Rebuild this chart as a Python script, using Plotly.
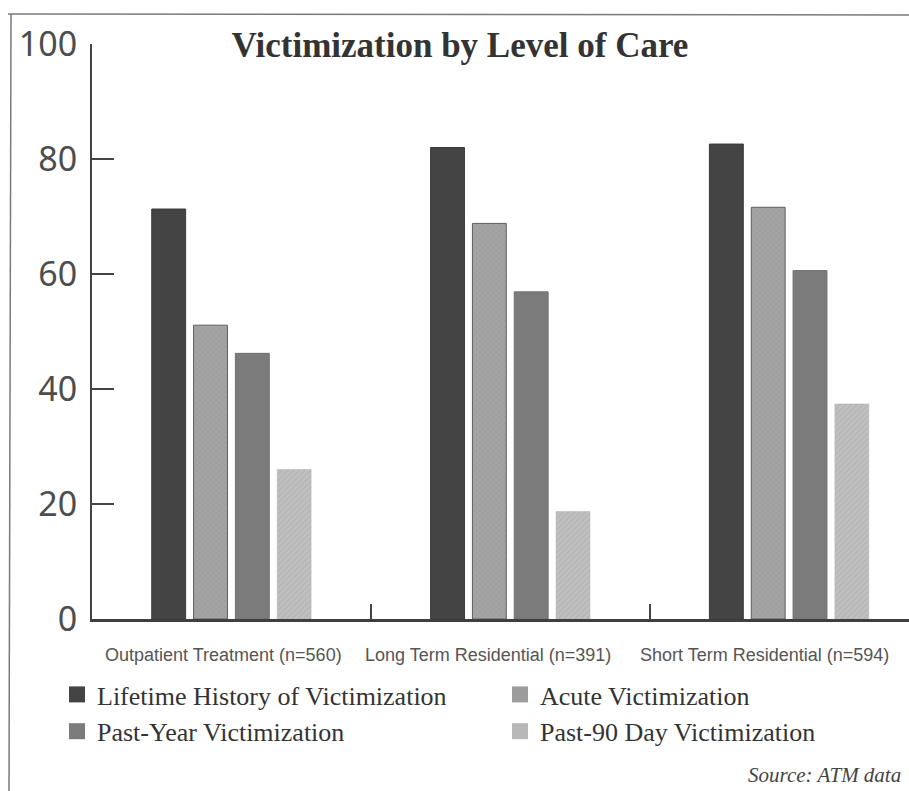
import plotly.graph_objects as go

# Level-of-care groups and victimization rates (%)
categories = ["Outpatient Treatment (n=560)",
              "Long Term Residential (n=391)",
              "Short Term Residential (n=594)"]
lifetime = [71.3, 82.0, 82.6]
acute = [51.1, 68.8, 71.6]
past_year = [46.2, 56.9, 60.6]
past_90 = [26.0, 18.7, 37.4]
y_ticks = [0, 20, 40, 60, 80, 100]
# category labels sit a little left of their bar groups
label_shift = [-8, -22, -25]

# name, values, swatch colour, bar marker, legend column
series = [
    ("Lifetime History of Victimization", lifetime, "#444444",
     dict(color="#444444", line=dict(color="#3a3a3a", width=1)), "legend"),
    ("Acute Victimization", acute, "#9c9c9c",
     dict(color="#9c9c9c", line=dict(color="#5e5e5e", width=1),
          pattern=dict(shape="x", fgcolor="#8c8c8c", bgcolor="#a4a4a4",
                       size=4, solidity=0.25)), "legend2"),
    ("Past-Year Victimization", past_year, "#7b7b7b",
     dict(color="#7b7b7b", line=dict(color="#707070", width=1)), "legend"),
    ("Past-90 Day Victimization", past_90, "#b8b8b8",
     dict(color="#b8b8b8", line=dict(color="#b0b0b0", width=0.5),
          pattern=dict(shape="/", fgcolor="#a6a6a6", bgcolor="#c0c0c0",
                       size=4, solidity=0.3)), "legend2"),
]

fig = go.Figure()
for name, vals, swatch, marker, leg in series:
    fig.add_trace(go.Bar(x=categories, y=vals, name=name, marker=marker,
                         legendgroup=name, showlegend=False))
# larger square swatches for the two legend columns
for name, vals, swatch, marker, leg in series:
    fig.add_trace(go.Scatter(x=[None], y=[None], mode="markers", name=name,
                             legendgroup=name, legend=leg,
                             marker=dict(symbol="square", size=17, color=swatch)))

# category labels under the axis
cat_labels = [dict(text=c, xref="x", yref="paper", x=c, y=-(655 - 619) / 575,
                   xanchor="center", yanchor="middle", xshift=s, showarrow=False,
                   font=dict(family="Liberation Sans", size=18, color="#555555"))
              for c, s in zip(categories, label_shift)]

legend_font = dict(family="Liberation Serif", size=26, color="#333333")
legend_y = -(671 - 619) / 575

fig.update_layout(
    width=909, height=791,
    margin=dict(l=92, r=0, t=44, b=172, autoexpand=False),
    paper_bgcolor="white", plot_bgcolor="white",
    barmode="group", bargap=0.4, bargroupgap=0.19,
    title=dict(text="<b>Victimization by Level of Care</b>",
               x=0.506, xref="container", xanchor="center",
               y=1 - 45 / 791, yref="container", yanchor="middle",
               font=dict(family="Liberation Serif", size=35, color="#333333")),
    xaxis=dict(type="category", range=[-0.5, 2.43],
               showline=True, linecolor="#3f3f3f", linewidth=3,
               ticks="inside", tickson="boundaries", ticklen=15,
               tickwidth=2, tickcolor="#444444", showticklabels=False,
               showgrid=False, zeroline=False, fixedrange=True),
    yaxis=dict(range=[0, 100], tickvals=y_ticks,
               showline=True, linecolor="#444444", linewidth=2,
               ticks="inside", ticklen=22, tickwidth=2, tickcolor="#444444",
               ticklabelstandoff=6,
               tickfont=dict(family="Noto Sans", size=34, color="#4d4d4d"),
               showgrid=False, zeroline=False, fixedrange=True),
    legend=dict(orientation="v", x=(57 - 92) / 817, xanchor="left",
                y=legend_y, yanchor="top", tracegroupgap=0,
                itemclick=False, itemdoubleclick=False, font=legend_font),
    legend2=dict(orientation="v", x=(500 - 92) / 817, xanchor="left",
                 y=legend_y, yanchor="top", tracegroupgap=0,
                 itemclick=False, itemdoubleclick=False, font=legend_font),
    annotations=cat_labels + [
        dict(text="<i>Source: ATM data</i>", xref="paper", yref="paper",
             x=(903 - 92) / 817, y=(619 - 775) / 575,
             xanchor="right", yanchor="middle", showarrow=False,
             font=dict(family="Liberation Serif", size=21, color="#444444"))],
    shapes=[
        dict(type="line", xref="paper", yref="paper",
             x0=(8 - 92) / 817, x1=1.0, y0=(619 - 14) / 575, y1=(619 - 15) / 575,
             line=dict(color="#7a7a7a", width=1.5)),
        dict(type="line", xref="paper", yref="paper",
             x0=(11 - 92) / 817, x1=(9 - 92) / 817,
             y0=(619 - 14) / 575, y1=(619 - 791) / 575,
             line=dict(color="#7a7a7a", width=1.5)),
    ],
)

fig.write_html("out.html")
